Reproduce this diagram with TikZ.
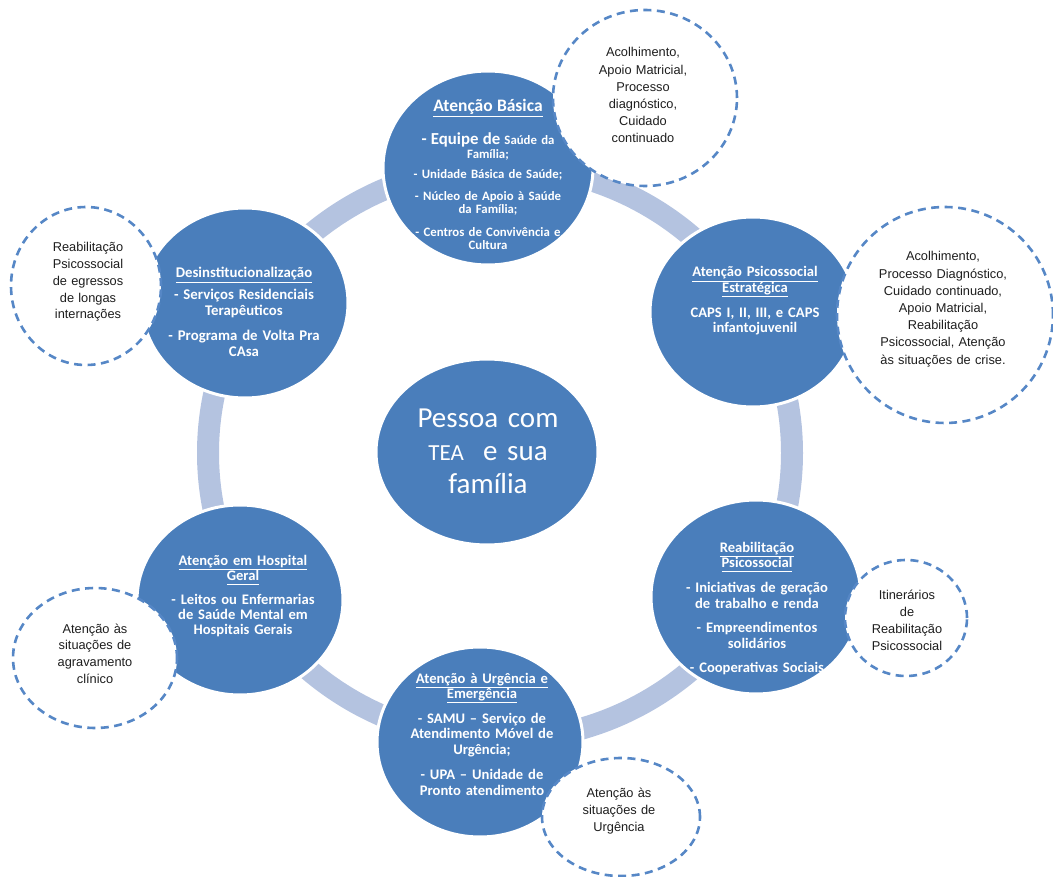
\documentclass[tikz,border=0pt]{standalone}
\usepackage{fontspec}
\usetikzlibrary{shapes.geometric}
\newfontfamily\carlito{Carlito}
\newfontfamily\arialsans{Liberation Sans}
\definecolor{nodeblue}{RGB}{74,126,187}
\definecolor{ringblue}{RGB}{180,195,224}
\definecolor{dashblue}{RGB}{86,135,198}
\definecolor{notetext}{RGB}{30,30,30}
% underlined heading with a fixed underline depth
\newcommand\ttl[1]{\underline{#1\vphantom{gç}}}
\begin{document}
\begin{tikzpicture}[x=1pt,y=-1pt,
  hub/.style={ellipse, fill=nodeblue, draw=white, line width=3pt, inner sep=0pt,
              minimum width=206pt, minimum height=190pt},
  service/.style={anchor=base, align=center, text=white, inner sep=0pt, text width=185pt,
              font=\carlito\bfseries\fontsize{14.6}{15.5}\selectfont},
  remark/.style={ellipse, fill=white, draw=dashblue, line width=2.6pt,
              dash pattern=on 8pt off 5.5pt, inner sep=0pt},
  remarktxt/.style={anchor=base, align=center, text=notetext, inner sep=0pt, text width=175pt,
              font=\arialsans\fontsize{12.8}{17.2}\selectfont},
]
\useasboundingbox (0,0) rectangle (1053,877);

% ring joining the services
\coordinate (ringc) at (500,453);
\draw[ringblue, line width=22pt] (ringc) ellipse [x radius=292pt, y radius=287pt];

% services around the ring
\node[hub, minimum width=210pt, minimum height=194pt] (ab) at (488,168) {};
\node[hub] (ps) at (753,312) {};
\node[hub, minimum width=210pt, minimum height=194pt] (re) at (756,597) {};
\node[hub] (ur) at (480,742) {};
\node[hub] (ho) at (240,600) {};
\node[hub] (de) at (245,303) {};
\node[hub, minimum width=222pt, minimum height=186pt] (pc) at (487,452) {};

% dashed remarks
\node[remark, minimum width=184pt, minimum height=176pt] (n1) at (645,98) {};
\node[remark, minimum width=216pt, minimum height=216pt] (n2) at (945,315) {};
\node[remark, minimum width=150pt, minimum height=158pt] (n3) at (86,286) {};
\node[remark, minimum width=122pt, minimum height=116pt] (n4) at (906,618) {};
\node[remark, minimum width=164pt, minimum height=140pt] (n5) at (95,658) {};
\node[remark, minimum width=158pt, minimum height=118pt] (n6) at (621,817) {};

% centre text
\node[anchor=base, align=center, text=white, inner sep=0pt, text width=200pt,
      font=\carlito\fontsize{29}{33}\selectfont] (pct) at (488,428)
  {Pessoa com\\{\fontsize{23}{33}\selectfont TEA}\ \ e sua\\família};

% service texts
\node[service, font=\carlito\bfseries\fontsize{12.8}{13.3}\selectfont] (abt) at (488,112)
  {{\fontsize{17.5}{13.3}\selectfont\ttl{Atenção Básica}}\\[15pt]
   {\fontsize{16.8}{13.3}\selectfont - Equipe de} Saúde da\\
   Família;\\[7pt]
   - Unidade Básica de Saúde;\\[9pt]
   - Núcleo de Apoio à Saúde\\
   da Família;\\[9pt]
   - Centros de Convivência e\\
   Cultura};
\node[service] (pst) at (755,277)
  {\ttl{Atenção Psicossocial}\\
   \ttl{Estratégica}\\[9.5pt]
   CAPS I, II, III, e CAPS\\
   infantojuvenil};
\node[service] (ret) at (757,552)
  {\ttl{Reabilitação}\\
   \ttl{Psicossocial}\\[9.5pt]
   - Iniciativas de geração\\
   de trabalho e renda\\[9pt]
   - Empreendimentos\\
   solidários\\[9pt]
   - Cooperativas Sociais};
\node[service] (urt) at (482,683)
  {\ttl{Atenção à Urgência e}\\
   \ttl{Emergência}\\[9pt]
   - SAMU – Serviço de\\
   Atendimento Móvel de\\
   Urgência;\\[10pt]
   - UPA – Unidade de\\
   Pronto atendimento};
\node[service] (hot) at (243,565)
  {\ttl{Atenção em Hospital}\\
   \ttl{Geral}\\[8pt]
   - Leitos ou Enfermarias\\
   de Saúde Mental em\\
   Hospitais Gerais};
\node[service, font=\carlito\bfseries\fontsize{14.8}{16}\selectfont] (det) at (244,278)
  {\ttl{Desinstitucionalização}\\[6pt]
   - Serviços Residenciais\\
   Terapêuticos\\[9pt]
   - Programa de Volta Pra\\
   CAsa};

% remark texts
\node[remarktxt] (n1t) at (643,57)
  {Acolhimento,\\Apoio Matricial,\\Processo\\diagnóstico,\\Cuidado\\continuado};
\node[remarktxt] (n2t) at (943,261)
  {Acolhimento,\\Processo Diagnóstico,\\Cuidado continuado,\\Apoio Matricial,\\Reabilitação\\Psicossocial, Atenção\\às situações de crise.};
\node[remarktxt, font=\arialsans\fontsize{12.8}{16.7}\selectfont] (n3t) at (88,252)
  {Reabilitação\\Psicossocial\\de egressos\\de longas\\internações};
\node[remarktxt, font=\arialsans\fontsize{12.8}{17}\selectfont] (n4t) at (907,599)
  {Itinerários\\de\\Reabilitação\\Psicossocial};
\node[remarktxt, font=\arialsans\fontsize{12.8}{16.7}\selectfont] (n5t) at (95,633)
  {Atenção às\\situações de\\agravamento\\clínico};
\node[remarktxt, font=\arialsans\fontsize{12.8}{17}\selectfont] (n6t) at (619,797)
  {Atenção às\\situações de\\Urgência};
\end{tikzpicture}
\end{document}
